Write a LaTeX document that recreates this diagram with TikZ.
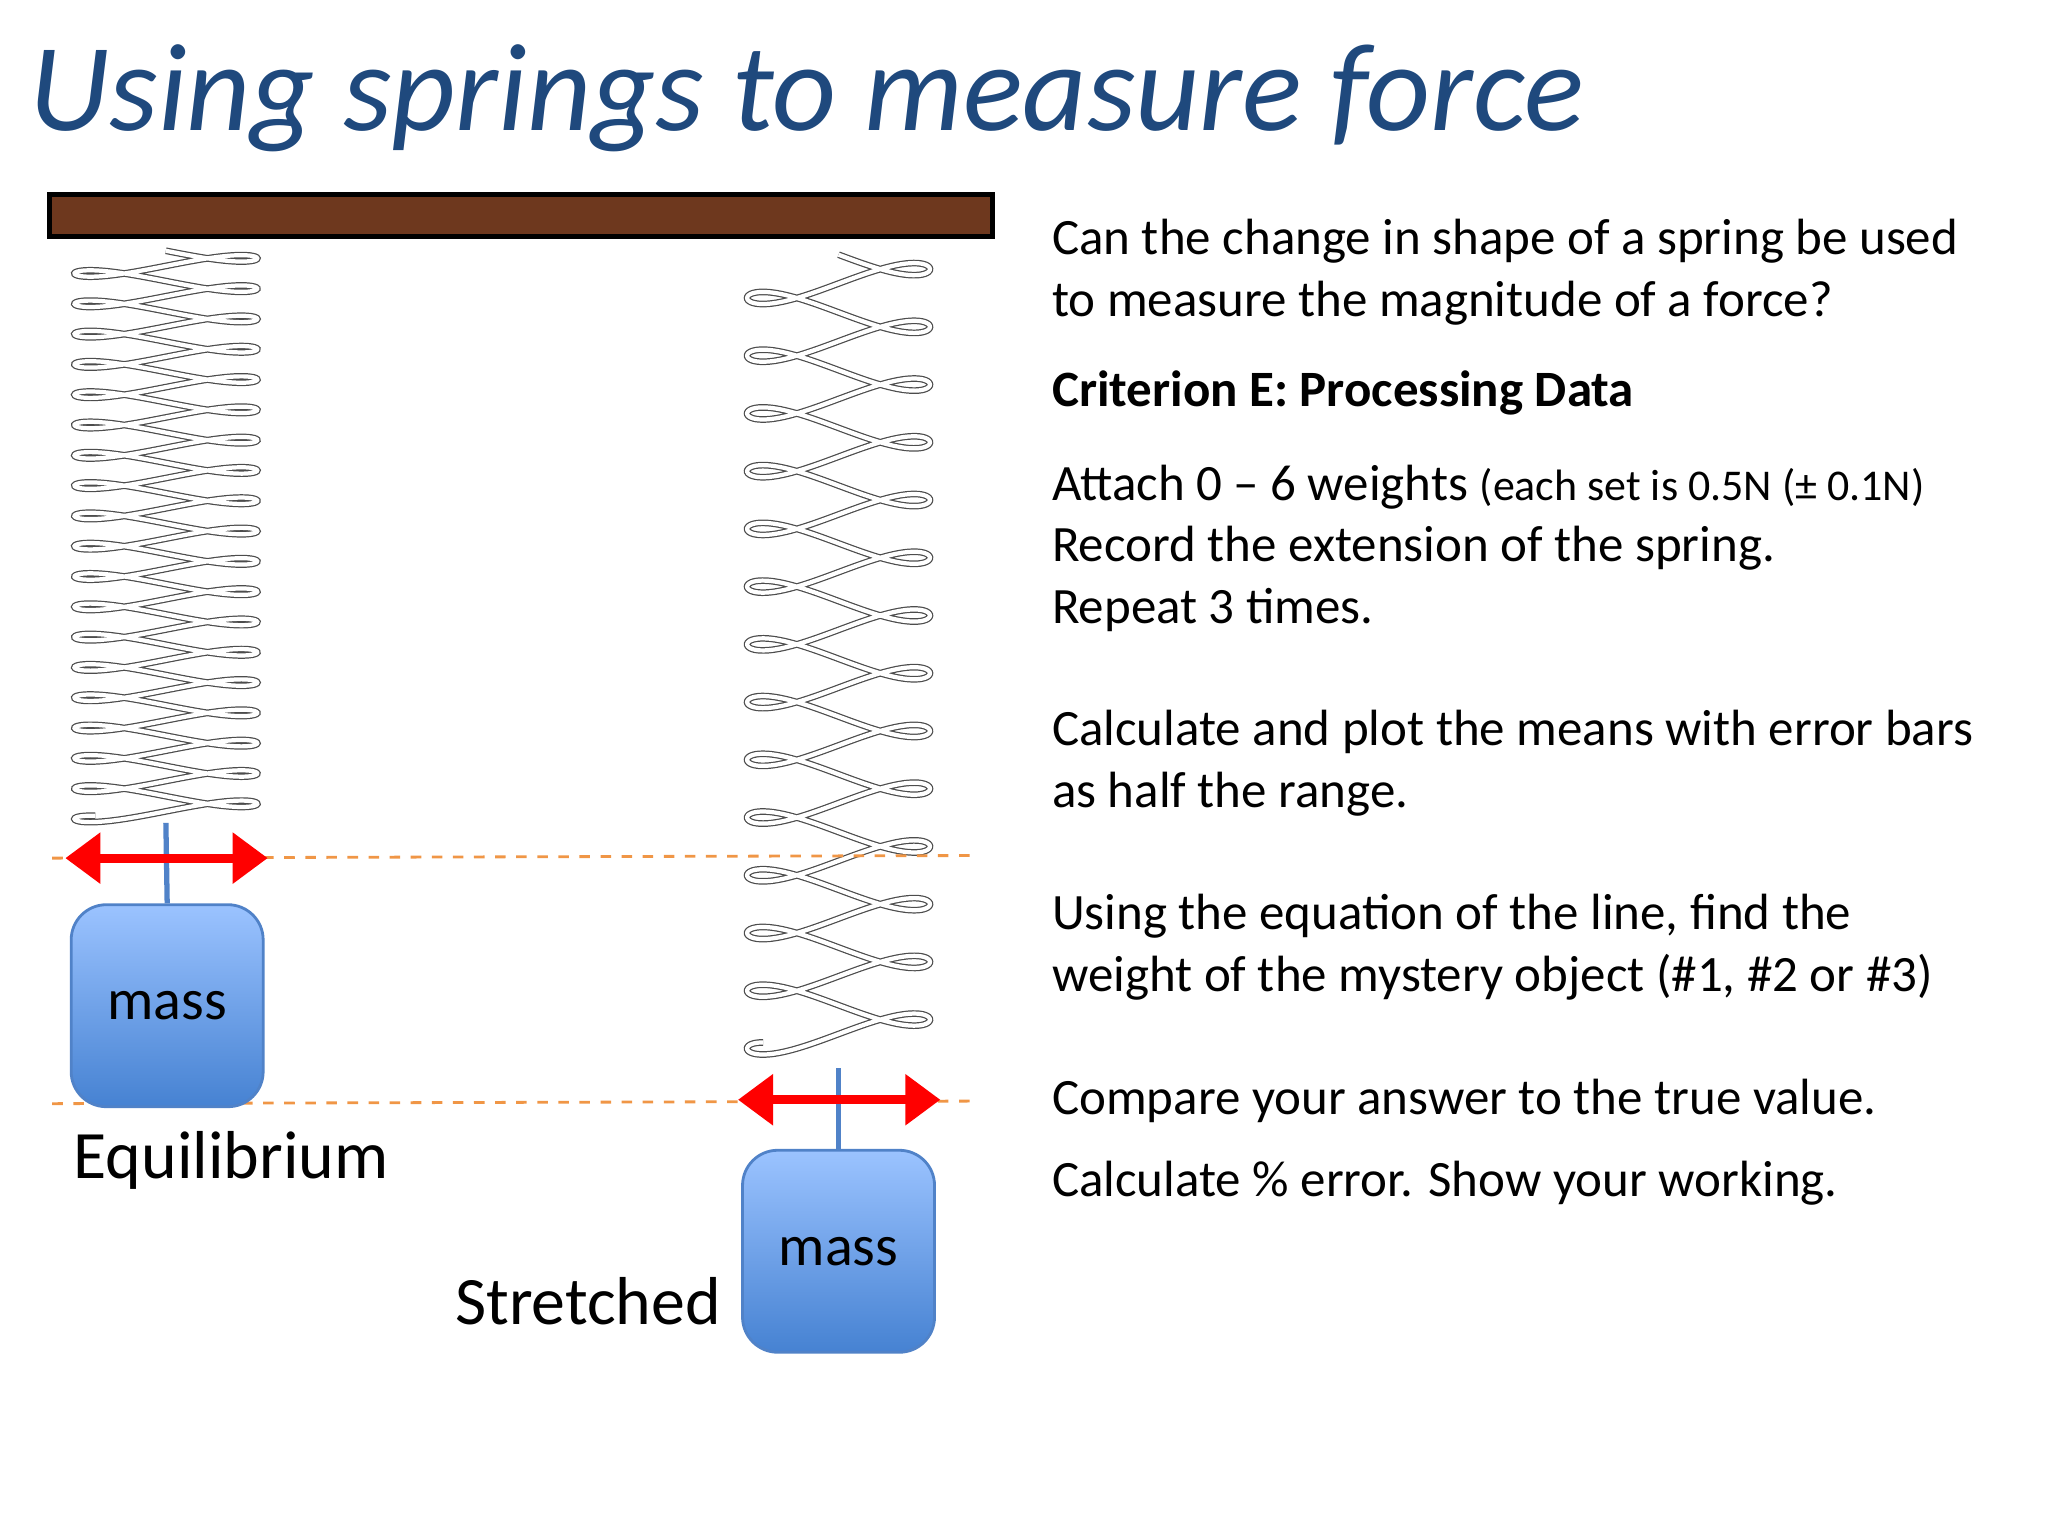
\documentclass[tikz,border=0pt]{standalone}
\usepackage{fontspec}
\setmainfont{Carlito}
\usetikzlibrary{arrows.meta}
\definecolor{titleblue}{RGB}{31,73,125}
\definecolor{wood}{RGB}{110,56,30}
\definecolor{dashor}{RGB}{240,150,70}
\definecolor{mtop}{RGB}{155,195,255}
\definecolor{mbot}{RGB}{70,130,210}
\definecolor{mline}{RGB}{80,130,200}
\tikzset{
 txt/.style={anchor=base west,inner sep=0pt,font=\fontsize{14.5}{17}\selectfont},
 dline/.style={dashor,dashed,line width=0.8pt},
 redarr/.style={red,line width=2.5pt,{Triangle[length=10pt,width=14pt]}-{Triangle[length=10pt,width=14pt]}},
 massbox/.style={draw=mline,line width=0.8pt,rounded corners=10pt,top color=mtop,bottom color=mbot,minimum width=1.92cm,minimum height=2.02cm,font=\fontsize{16.5}{20}\selectfont},
 coil/.style={line width=0.35pt,black!70,double=white,double distance=1.2pt}
}
\begin{document}
\begin{tikzpicture}[x=0.01306cm,y=-0.01306cm]
\useasboundingbox (0,0) rectangle (1568,1176);
\node[anchor=base west,inner sep=0pt,text=titleblue,font=\fontsize{35.5}{40}\selectfont\itshape] (title) at (22,100) {Using springs to measure force};
% springs
\draw[coil] plot[domain=0:118.5,samples=1200,smooth] ({127+70*sin(\x r)},{192+23.2*\x/6.2832+5*sin(2*\x r)});
\draw[coil] plot[domain=0:87,samples=1200,smooth] ({642+70*sin(\x r)},{195+44.2*\x/6.2832+9.5*sin(2*\x r)});
% ceiling
\node[draw=black,line width=1.5pt,fill=wood,minimum width=9.43cm,minimum height=0.42cm,inner sep=0pt] (bar) at (399,165) {};
% dashed lines
\coordinate (d1a) at (40,657); \coordinate (d1b) at (750,655);
\coordinate (d2a) at (40,845); \coordinate (d2b) at (750,843);
\draw[dline] (d1a) -- (d1b);
\draw[dline] (d2a) -- (d2b);
% masses
\node[massbox] (m1) at (128,770) {mass};
\node[massbox] (m2) at (642,958) {mass};
\coordinate (s1) at (127,630); \coordinate (s2) at (642,818);
\draw[mline,line width=1.5pt] (s1) -- (m1.north);
\draw[mline,line width=1.5pt] (s2) -- (m2.north);
\coordinate (a1) at (50,657); \coordinate (b1) at (205,657);
\coordinate (a2) at (565,842); \coordinate (b2) at (720,842);
\draw[redarr] (a1) -- (b1);
\draw[redarr] (a2) -- (b2);
\node[anchor=base west,inner sep=0pt,font=\fontsize{19.3}{23}\selectfont] (eq) at (56,902) {Equilibrium};
\node[anchor=base west,inner sep=0pt,font=\fontsize{19.3}{23}\selectfont] (st) at (348,1014) {Stretched};
% right text
\node[txt] (t1) at (805,195) {Can the change in shape of a spring be used};
\node[txt] (t2) at (805,242) {to measure the magnitude of a force?};
\node[txt,font=\fontsize{14.5}{17}\selectfont\bfseries] (t3) at (805,311) {Criterion E: Processing Data};
\node[txt] (t4) at (805,383) {Attach 0 -- 6 weights {\fontsize{12.5}{15}\selectfont (each set is 0.5N (± 0.1N)}};
\node[txt] (t5) at (805,430) {Record the extension of the spring.};
\node[txt] (t6) at (805,477) {Repeat 3 times.};
\node[txt] (t7) at (805,571) {Calculate and plot the means with error bars};
\node[txt] (t8) at (805,618) {as half the range.};
\node[txt] (t9) at (805,712) {Using the equation of the line, find the};
\node[txt] (t10) at (805,759) {weight of the mystery object (\#1, \#2 or \#3)};
\node[txt] (t11) at (805,853) {Compare your answer to the true value.};
\node[txt] (t12) at (805,916) {Calculate \% error. Show your working.};
\end{tikzpicture}
\end{document}
